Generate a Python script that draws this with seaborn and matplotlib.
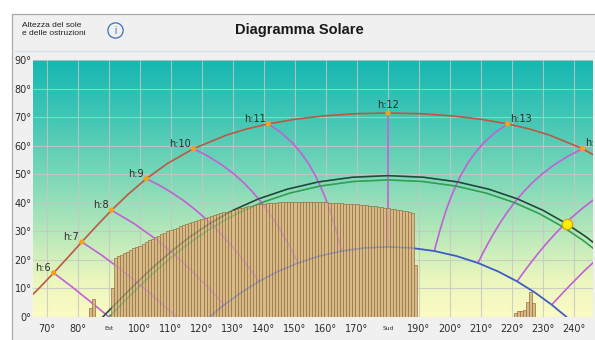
import numpy as np
import pandas as pd
import matplotlib
matplotlib.use("Agg")
import matplotlib.pyplot as plt
import seaborn as sns
from matplotlib.colors import LinearSegmentedColormap
from matplotlib.patches import Rectangle
from matplotlib.lines import Line2D
import matplotlib.transforms as mtransforms

# ---------------- data (azimuth in degrees, altitude in degrees) ----------------
summer_az = [62.85, 67.55, 72.14, 76.67, 81.23, 85.91, 90.82, 96.13, 102.05, 108.92,
             117.23, 127.72, 134.10, 141.39, 149.70, 159.04, 169.29, 180.00, 190.71,
             200.96, 210.30, 218.61, 225.90, 232.28, 242.77, 251.08]
summer_alt = [5.15, 10.20, 15.44, 20.80, 26.27, 31.81, 37.38, 42.94, 48.44, 53.81,
              58.94, 63.63, 65.76, 67.63, 69.19, 70.41, 71.18, 71.44, 71.18,
              70.41, 69.19, 67.63, 65.76, 63.63, 58.94, 53.81]

today_az = [87.98, 88.88, 93.92, 99.04, 104.36, 109.99, 116.05, 122.69, 130.03, 138.24,
            147.41, 157.57, 168.54, 180.00, 191.46, 202.43, 212.59, 221.76, 229.97,
            237.31, 243.95, 250.01]
today_alt = [0.0, 1.00, 6.57, 12.11, 17.57, 22.89, 28.02, 32.87, 37.37, 41.37,
             44.73, 47.31, 48.94, 49.50, 48.94, 47.31, 44.73, 41.37, 37.37,
             32.87, 28.02, 22.89]

equinox_az = [90.00, 95.03, 100.16, 105.49, 111.12, 117.18, 123.79, 131.09, 139.23,
              148.24, 158.14, 168.93, 180.00, 191.07, 201.86, 211.76, 220.77, 228.91,
              236.21, 242.82, 248.88]
equinox_alt = [0.0, 5.57, 11.09, 16.52, 21.81, 26.90, 31.70, 36.13, 40.06,
               43.36, 45.87, 47.46, 48.00, 47.46, 45.87, 43.36, 40.06, 36.13,
               31.70, 26.90, 21.81]

winter_az = [122.40, 127.18, 132.60, 138.36, 144.49, 150.98, 157.86, 165.06, 172.45,
             180.00, 187.55, 194.94, 202.14, 209.02, 215.51, 221.64, 227.40, 232.82, 237.60]
winter_alt = [0.0, 4.29, 8.56, 12.47, 15.95, 18.92, 21.33, 23.11, 24.19,
              24.56, 24.19, 23.11, 21.33, 18.92, 15.95, 12.47, 8.56, 4.29, 0.0]

# hour lines (from summer solstice to winter solstice / horizon)
h6_az = [72.14, 77.97, 84.04, 90.00]
h6_alt = [15.44, 10.63, 5.34, 0.0]
h7_az = [81.23, 87.63, 94.07, 100.16, 106.04, 111.80]
h7_alt = [26.27, 21.67, 16.47, 11.09, 5.59, 0.0]
h8_az = [90.82, 97.98, 104.88, 111.12, 116.88, 122.31, 127.18]
h8_alt = [37.38, 32.79, 27.46, 21.81, 15.95, 9.95, 4.29]
h9_az = [102.05, 105.99, 110.19, 114.03, 117.54, 120.78, 123.79, 126.60, 129.25,
         131.75, 134.14, 136.44, 138.36]
h9_alt = [48.44, 46.27, 43.60, 40.78, 37.84, 34.81, 31.70, 28.52, 25.29,
          22.02, 18.71, 15.36, 12.47]
h10_az = [117.23, 121.71, 126.23, 130.13, 133.54, 136.54, 139.23, 141.63, 143.83,
          145.86, 147.75, 149.54, 150.98]
h10_alt = [58.94, 56.47, 53.42, 50.24, 46.93, 43.53, 40.06, 36.54, 32.97,
           29.37, 25.74, 22.08, 18.92]
h11_az = [141.39, 145.45, 149.15, 152.07, 154.47, 156.48, 158.14, 159.67, 161.01,
          162.16, 163.24, 164.23, 165.06]
h11_alt = [67.63, 64.62, 60.97, 57.28, 53.51, 49.71, 45.87, 42.02, 38.15,
           34.26, 30.37, 26.47, 23.11]
h12_az = [180.0, 180.0]
h12_alt = [71.44, 24.56]
h13_az = [218.61, 214.55, 210.85, 207.93, 205.53, 203.52, 201.86, 200.33, 198.99,
          197.84, 196.76, 195.77, 194.94]
h13_alt = [67.63, 64.62, 60.97, 57.28, 53.51, 49.71, 45.87, 42.02, 38.15,
           34.26, 30.37, 26.47, 23.11]
h14_az = [242.77, 238.29, 233.77, 229.87, 226.46, 223.46, 220.77, 218.37, 216.17,
          214.14, 212.25, 210.46, 209.02]
h14_alt = [58.94, 56.47, 53.42, 50.24, 46.93, 43.53, 40.06, 36.54, 32.97,
           29.37, 25.74, 22.08, 18.92]
h15_az = [257.95, 254.01, 249.81, 245.97, 242.46, 239.22, 236.21, 233.40, 230.75,
          228.25, 225.86, 223.56, 221.64]
h15_alt = [48.44, 46.27, 43.60, 40.78, 37.84, 34.81, 31.70, 28.52, 25.29,
           22.02, 18.71, 15.36, 12.47]
h16_az = [269.18, 262.02, 255.12, 248.88, 243.12, 237.69, 232.82]
h16_alt = [37.38, 32.79, 27.46, 21.81, 15.95, 9.95, 4.29]

hour_labels = ['h:6', 'h:7', 'h:8', 'h:9', 'h:10', 'h:11', 'h:12', 'h:13', 'h:14']
hour_az = [72.14, 81.23, 90.82, 102.05, 117.23, 141.39, 180.0, 218.61, 242.77]
hour_alt = [15.44, 26.27, 37.38, 48.44, 58.94, 67.63, 71.44, 67.63, 58.94]

sun_az = [237.6]
sun_alt = [32.4]

# obstruction profile (1 degree bars)
obst_az = [84, 85] + list(range(91, 190)) + list(range(221, 228))
obst_h = [3.1, 6.4,
          10.0,
          20.8, 21.3, 21.8, 22.3, 22.9, 23.4, 24.0, 24.5, 25.0,
          25.6, 26.2, 26.8, 27.4, 28.0, 28.5, 29.0, 29.5, 30.0, 30.5,
          30.9, 31.3, 31.7, 32.1, 32.5, 32.9, 33.3, 33.7, 34.0, 34.4,
          34.7, 35.0, 35.4, 35.7, 36.0, 36.3, 36.6, 36.9, 37.2, 37.5,
          37.8, 38.0, 38.3, 38.5, 38.8, 39.0, 39.2, 39.4, 39.5, 39.7,
          39.8, 39.9, 40.0, 40.0, 40.1, 40.2, 40.2, 40.3, 40.3, 40.3,
          40.3, 40.3, 40.3, 40.3, 40.3, 40.3, 40.2, 40.2, 40.1, 40.1,
          40.0, 40.0, 39.9, 39.9, 39.8, 39.7, 39.6, 39.6, 39.5, 39.4,
          39.3, 39.2, 39.1, 38.9, 38.8, 38.7, 38.6, 38.4, 38.2, 38.1,
          37.9, 37.8, 37.6, 37.4, 37.2, 37.0, 36.8, 36.5,
          18.2,
          1.4, 2.0, 2.0, 2.3, 5.4, 8.8, 4.9]

x_ticks = list(range(70, 241, 10))
x_ticklabels = ['70°', '80°', '', '100°', '110°', '120°', '130°', '140°', '150°',
                '160°', '170°', '', '190°', '200°', '210°', '220°', '230°', '240°']
y_ticks = list(range(0, 91, 10))
y_ticklabels = ['0°', '10°', '20°', '30°', '40°', '50°', '60°', '70°', '80°', '90°']
dir_ticks = [90, 180]
dir_labels = ['Est', 'Sud']

# ---------------- styling ----------------
sns.set_style("white")
plt.rcParams['font.family'] = ['DejaVu Sans']

W, H = 595, 340
fig = plt.figure(figsize=(W / 100, H / 100), dpi=100)
fig.patch.set_facecolor('white')

fig.add_artist(Rectangle((11.5 / W, -0.02), 1.0, (H - 14) / H + 0.02,
                         transform=fig.transFigure, facecolor='#f0f0f0',
                         edgecolor='#a9a9a9', lw=0.9, zorder=0))
fig.add_artist(Line2D([12 / W, 1], [1 - 50.5 / H] * 2, transform=fig.transFigure,
                      color='#cfe1ea', lw=0.8, zorder=1))

fig.text(22 / W, 1 - 29.5 / H, 'Altezza del sole\ne delle ostruzioni', fontsize=6,
         family=['Liberation Sans', 'DejaVu Sans'], va='center', ha='left',
         linespacing=1.35, color='#222222')
fig.add_artist(Line2D([115 / W], [1 - 30 / H], marker='o', ms=11, mfc='none',
                      mec='#3f6fbf', mew=0.9, transform=fig.transFigure))
fig.text(115 / W, 1 - 30.5 / H, 'i', fontsize=7, color='#3f6fbf', ha='center',
         va='center', family=['Liberation Sans', 'DejaVu Sans'])
fig.text(299 / W, 1 - 30 / H, 'Diagramma Solare', fontsize=10.5, fontweight='bold',
         family=['Liberation Sans', 'DejaVu Sans'], ha='center', va='center',
         color='#1a1a1a')

x0, x1 = 33, 593
y_top, y_bot = 60, 317
ax = fig.add_axes([x0 / W, 1 - y_bot / H, (x1 - x0) / W, (y_bot - y_top) / H])
xmin = 65 + (x0 - 31.5) / 3.1
xmax = 65 + (x1 - 31.5) / 3.1
ax.set_xlim(xmin, xmax)
ax.set_ylim(0, 90)

# gradient background
cmap = LinearSegmentedColormap.from_list('sky', [
    (0.0, '#fcfbc4'), (0.15, '#e9f6bd'), (0.33, '#b6e8ba'),
    (0.55, '#7ad7b8'), (0.78, '#40c6b5'), (1.0, '#16b7b2')])
grad = np.linspace(0, 1, 256).reshape(-1, 1)
ax.imshow(grad, extent=[xmin, xmax, 0, 90], origin='lower', aspect='auto',
          cmap=cmap, zorder=0)

ax.set_axisbelow(True)
ax.grid(True, color='#c6c6c6', lw=0.8, alpha=0.8)
for s in ax.spines.values():
    s.set_visible(False)


def draw_line(az, alt, color, lw, z, alpha=1.0):
    df = pd.DataFrame({'az': az, 'alt': alt})
    sns.lineplot(data=df, x='az', y='alt', sort=False, estimator=None, ax=ax,
                 color=color, lw=lw, alpha=alpha, zorder=z)


hour_lines = [(h6_az, h6_alt), (h7_az, h7_alt), (h8_az, h8_alt), (h9_az, h9_alt),
              (h10_az, h10_alt), (h11_az, h11_alt), (h12_az, h12_alt),
              (h13_az, h13_alt), (h14_az, h14_alt), (h15_az, h15_alt),
              (h16_az, h16_alt)]
hour_col = '#c35fd6'
green_dark = '#1f4a3a'
green = '#2f9f50'
blue = '#3d5cc9'

for z, a in [(2, 1.0), (4, 0.35)]:
    for haz, halt in hour_lines:
        draw_line(haz, halt, hour_col, 1.1, z, a)
    draw_line(winter_az, winter_alt, blue, 1.2, z, a)
    draw_line(equinox_az, equinox_alt, green, 1.1, z, a)
    draw_line(today_az, today_alt, green_dark, 1.1, z, a)

ax.bar(obst_az, obst_h, width=1.0, color='#d8ba88', edgecolor='#94713f',
       linewidth=0.5, zorder=3)

draw_line(summer_az, summer_alt, '#bb5944', 1.2, 5)

sns.scatterplot(x=hour_az, y=hour_alt, ax=ax, s=14, color='#f5a11c',
                edgecolor='none', zorder=6)
sns.scatterplot(x=sun_az, y=sun_alt, ax=ax, s=55, color='#ffee00',
                edgecolor='#d9a400', linewidth=0.8, zorder=7)

for lab, az, alt in zip(hour_labels, hour_az, hour_alt):
    if az < 179:
        off, ha = (-2.0, 3.5), 'right'
    elif az > 181:
        off, ha = (1.5, 3.8), 'left'
    else:
        off, ha = (0, 5.5), 'center'
    t = ax.annotate(lab, (az, alt), xytext=off, textcoords='offset points',
                    ha=ha, va='center', fontsize=7, color='#2b2b2b', zorder=8,
                    annotation_clip=False)
    t.set_clip_on(True)
    t.set_clip_path(ax.patch)

ax.set_xlim(xmin, xmax)
ax.set_ylim(0, 90)
ax.set_xticks(x_ticks)
ax.set_xticklabels(x_ticklabels)
ax.set_yticks(y_ticks)
ax.set_yticklabels(y_ticklabels)
ax.tick_params(length=0, labelsize=7, colors='#2b2b2b')
ax.tick_params(axis='x', pad=5)
ax.tick_params(axis='y', pad=1)
blend = mtransforms.blended_transform_factory(ax.transData, ax.transAxes)
for xt, lt in zip(dir_ticks, dir_labels):
    ax.text(xt, -0.035, lt, transform=blend, fontsize=4.3, ha='center', va='top',
            color='#2b2b2b')
ax.set_xlabel('')
ax.set_ylabel('')
if ax.get_legend() is not None:
    ax.get_legend().remove()

fig.savefig('out.png', dpi=100)
